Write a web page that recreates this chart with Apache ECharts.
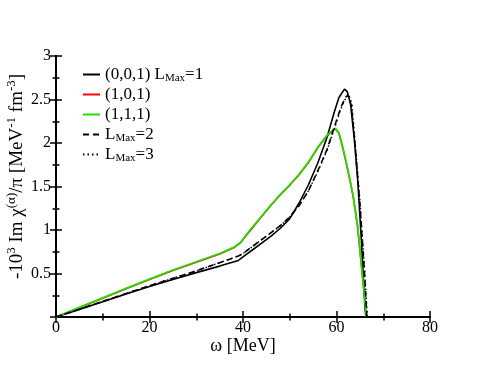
<!DOCTYPE html>
<html><head><meta charset="utf-8">
<script src="https://cdn.jsdelivr.net/npm/echarts@6/dist/echarts.min.js"></script>
<style>html,body{margin:0;padding:0;background:#fff}#c{width:484px;height:374px}</style>
</head><body><div id="c"></div>
<script>
// omega [MeV] and -10^3 Im chi / pi values
const omegaA = [0,5,10,15,20,25,30,35,39,40,42,44,46,48,50,52,54,56,58,59.5,60.5,61.7,62.3,63,63.8,64.5,65.3,66.1,66.3];
const valA   = [0,0.085,0.175,0.265,0.35,0.43,0.51,0.585,0.65,0.69,0.77,0.85,0.93,1.02,1.13,1.31,1.52,1.77,2.07,2.35,2.52,2.62,2.59,2.45,2.05,1.6,0.9,0.1,0];

const omegaB = [0,5,10,15,20,25,30,35,38,39.5,41.5,44,46,48,50,52,54,56,58,59.7,60.5,61.2,62,62.9,63.6,64.5,65.5,66.4];
const valRed = [0,0.105,0.215,0.325,0.43,0.535,0.63,0.725,0.795,0.855,0.99,1.155,1.285,1.405,1.515,1.635,1.775,1.945,2.085,2.165,2.115,1.975,1.79,1.565,1.375,1.045,0.5,0];
const valGrn = [0,0.11,0.22,0.33,0.435,0.54,0.635,0.73,0.80,0.86,1.0,1.16,1.29,1.41,1.52,1.64,1.78,1.95,2.09,2.17,2.12,1.98,1.80,1.57,1.38,1.05,0.5,0];

const omegaC = [0,10,20,30,39,40,42,44,46,48,50,52,54,56,58,60,61,62,62.5,63.2,64,65,66,66.5];
const valDash= [0,0.18,0.36,0.53,0.70,0.73,0.81,0.89,0.97,1.05,1.15,1.28,1.45,1.68,1.93,2.26,2.42,2.53,2.55,2.42,1.95,1.3,0.5,0];
const omegaD = [0,10,20,30,39,40,42,44,46,48,50,52,54,56,58,60,61,62,62.6,63.3,64,65,66,66.6];
const valDot = [0,0.18,0.36,0.53,0.70,0.73,0.81,0.89,0.97,1.05,1.15,1.28,1.45,1.67,1.92,2.24,2.40,2.52,2.56,2.45,2.0,1.35,0.55,0];

const xTicks = [0,20,40,60,80];
const yTicks = [0.5,1,1.5,2,2.5,3];

function pairs(xs, ys){ return xs.map((x,i)=>[x,ys[i]]); }

const FONT = '"Liberation Serif", "DejaVu Serif", serif';
const chart = echarts.init(document.getElementById('c'));
const axLine = {show:true, lineStyle:{color:'#000', width:2}};
const baseX = {type:'value', min:0, max:80, interval:20, splitLine:{show:false}, axisLine:axLine,
  axisTick:{inside:true, length:6, lineStyle:{color:'#000', width:1.5}},
  minorTick:{show:true, splitNumber:2, length:3.5, lineStyle:{color:'#000', width:1.5}}};
const baseY = {type:'value', min:0, max:3, interval:0.5, splitLine:{show:false}, axisLine:axLine,
  axisTick:{inside:true, length:6, lineStyle:{color:'#000', width:1.5}},
  minorTick:{show:true, splitNumber:2, length:3.5, lineStyle:{color:'#000', width:1.5}}};

const sup = {fontSize:13, fontFamily:FONT, color:'#000', verticalAlign:'top', lineHeight:24};
const legNames = ['(0,0,1) L{sub|Max}=1','(1,0,1)','(1,1,1)','L{sub|Max}=2','L{sub|Max}=3'];

chart.setOption({
  animation:false,
  backgroundColor:'#fff',
  grid:{left:56, right:54, top:56, bottom:57, outerBoundsMode:'none', containLabel:false},
  legend:{
    orient:'vertical', left:77, top:60, itemWidth:17, itemHeight:10, itemGap:1,
    itemStyle:{opacity:0},
    data:['A','R','G','D','T'],
    formatter: n => ({A:legNames[0],R:legNames[1],G:legNames[2],D:legNames[3],T:legNames[4]})[n],
    textStyle:{fontSize:17, fontFamily:FONT, color:'#000', lineHeight:19,
      rich:{sub:{fontSize:11, fontFamily:FONT, color:'#000', verticalAlign:'bottom', padding:[8,0,0,0]}}},
    selectedMode:false
  },
  xAxis:[
    Object.assign({}, baseX, {position:'bottom', name:'ω [MeV]', nameLocation:'middle', nameGap:20, nameMoveOverlap:false,
      nameTextStyle:{fontSize:18, fontFamily:FONT, color:'#000'},
      axisLabel:{fontSize:16, fontFamily:FONT, color:'#000', margin:3}}),
    Object.assign({}, baseX, {position:'top', axisLabel:{show:false}})
  ],
  yAxis:[
    Object.assign({}, baseY, {position:'left',
      name:'-10{sup|3} Im χ{sup|(α)}/π [MeV{sup|-1} fm{sup|-3}]', nameLocation:'middle', nameGap:27, nameRotate:90, nameMoveOverlap:false,
      nameTextStyle:{fontSize:19, fontFamily:FONT, color:'#000', lineHeight:24, padding:[0,0,0,20], rich:{sup:sup}},
      axisLabel:{fontSize:16, fontFamily:FONT, color:'#000', margin:5,
        formatter: v => yTicks.indexOf(v) >= 0 ? String(v) : ''}}),
    Object.assign({}, baseY, {position:'right', axisLabel:{show:false}})
  ],
  series:[
    {name:'A', type:'line', showSymbol:false, symbol:'none', data:pairs(omegaA,valA), lineStyle:{color:'#000', width:1.6}, itemStyle:{color:'#000'}, z:3},
    {name:'R', type:'line', showSymbol:false, symbol:'none', data:pairs(omegaB,valRed), lineStyle:{color:'#ff0000', width:1.6}, itemStyle:{color:'#ff0000'}, z:2},
    {name:'G', type:'line', showSymbol:false, symbol:'none', data:pairs(omegaB,valGrn), lineStyle:{color:'#22dd00', width:1.8}, itemStyle:{color:'#22dd00'}, z:3},
    {name:'D', type:'line', showSymbol:false, symbol:'none', data:pairs(omegaC,valDash), lineStyle:{color:'#000', width:1.6, type:[6,4]}, itemStyle:{color:'#000'}, z:3},
    {name:'T', type:'line', showSymbol:false, symbol:'none', data:pairs(omegaD,valDot), lineStyle:{color:'#000', width:1.4, type:[1.5,3]}, itemStyle:{color:'#000'}, z:3}
  ]
});
</script></body></html>
